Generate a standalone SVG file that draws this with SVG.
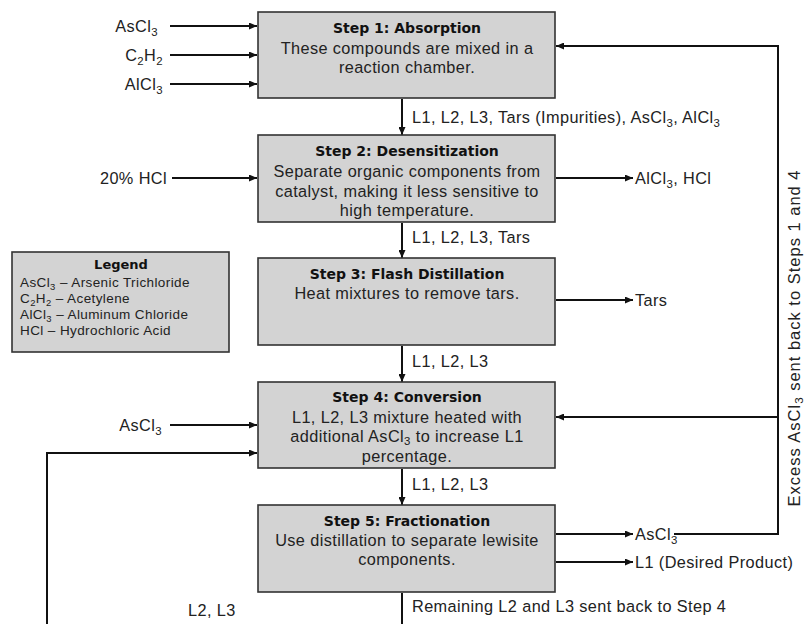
<svg xmlns="http://www.w3.org/2000/svg" width="807" height="624" viewBox="0 0 807 624">
<style>
.box{fill:#d3d3d3;stroke:#333;stroke-width:1.6}
.t{font-family:"DejaVu Sans",Verdana,sans-serif;font-weight:bold;font-size:14px;fill:#111;text-anchor:middle}
.b{font-family:"Liberation Sans",Arial,sans-serif;font-size:16.3px;letter-spacing:0.4px;fill:#222;text-anchor:middle}
.l{font-family:"Liberation Sans",Arial,sans-serif;font-size:16.3px;letter-spacing:0.4px;fill:#222}
.e{text-anchor:end}
.g{font-family:"Liberation Sans",Arial,sans-serif;font-size:13.5px;letter-spacing:0.4px;fill:#222}
.gt{font-family:"DejaVu Sans",Verdana,sans-serif;font-weight:bold;font-size:13px;fill:#111;text-anchor:middle}
.s{font-size:70%}
.c{fill:none;stroke:#111;stroke-width:2}
</style>
<defs>
<marker id="a" markerUnits="userSpaceOnUse" markerWidth="8" markerHeight="7" refX="8" refY="3.5" orient="auto">
<path d="M0,0 L8,3.5 L0,7 z" fill="#111"/>
</marker>
</defs>
<rect width="807" height="624" fill="#fff"/>

<g id="connectors">
<path class="c" marker-end="url(#a)" d="M170,26 H257"/>
<path class="c" marker-end="url(#a)" d="M170,55 H257"/>
<path class="c" marker-end="url(#a)" d="M170,84 H257"/>
<path class="c" marker-end="url(#a)" d="M172,178 H257"/>
<path class="c" marker-end="url(#a)" d="M170,425 H257"/>
<path class="c" marker-end="url(#a)" d="M402,99 V135"/>
<path class="c" marker-end="url(#a)" d="M402,223 V258"/>
<path class="c" marker-end="url(#a)" d="M402,346 V382"/>
<path class="c" marker-end="url(#a)" d="M402,469 V505"/>
<path class="c" marker-end="url(#a)" d="M556,178 H633"/>
<path class="c" marker-end="url(#a)" d="M556,300 H633"/>
<path class="c" marker-end="url(#a)" d="M556,534 H633"/>
<path class="c" marker-end="url(#a)" d="M556,562 H633"/>
<path class="c" marker-end="url(#a)" d="M674,534 H778 V46 H556"/>
<path class="c" marker-end="url(#a)" d="M778,417 H556"/>
<path class="c" marker-end="url(#a)" d="M402,593 V632 H47 V453 H257"/>
</g>

<g id="step1">
<rect class="box" x="258" y="12" width="297" height="86"/>
<text class="t" x="407" y="33">Step 1: Absorption</text>
<text class="b" x="407" y="54">These compounds are mixed in a</text>
<text class="b" x="407" y="73">reaction chamber.</text>
</g>
<g id="step2">
<rect class="box" x="258" y="135" width="297" height="87"/>
<text class="t" x="407" y="156">Step 2: Desensitization</text>
<text class="b" x="407" y="177">Separate organic components from</text>
<text class="b" x="407" y="197">catalyst, making it less sensitive to</text>
<text class="b" x="407" y="216">high temperature.</text>
</g>
<g id="step3">
<rect class="box" x="258" y="258" width="297" height="87"/>
<text class="t" x="407" y="279">Step 3: Flash Distillation</text>
<text class="b" x="407" y="299">Heat mixtures to remove tars.</text>
</g>
<g id="step4">
<rect class="box" x="258" y="382" width="297" height="86"/>
<text class="t" x="407" y="402">Step 4: Conversion</text>
<text class="b" x="407" y="423">L1, L2, L3 mixture heated with</text>
<text class="b" x="407" y="442">additional AsCl<tspan class="s" dy="3">3</tspan><tspan dy="-3"> to increase L1</tspan></text>
<text class="b" x="407" y="462">percentage.</text>
</g>
<g id="step5">
<rect class="box" x="258" y="505" width="297" height="87"/>
<text class="t" x="407" y="526">Step 5: Fractionation</text>
<text class="b" x="407" y="546">Use distillation to separate lewisite</text>
<text class="b" x="407" y="565">components.</text>
</g>
<g id="legend">
<rect class="box" x="12" y="252" width="217" height="100"/>
<text class="gt" x="121" y="269">Legend</text>
<text class="g" x="20" y="287">AsCl<tspan class="s" dy="3">3</tspan><tspan dy="-3"> – Arsenic Trichloride</tspan></text>
<text class="g" x="20" y="303">C<tspan class="s" dy="3">2</tspan><tspan dy="-3">H</tspan><tspan class="s" dy="3">2</tspan><tspan dy="-3"> – Acetylene</tspan></text>
<text class="g" x="20" y="319">AlCl<tspan class="s" dy="3">3</tspan><tspan dy="-3"> – Aluminum Chloride</tspan></text>
<text class="g" x="20" y="335">HCl – Hydrochloric Acid</text>
</g>

<g id="inputs">
<text class="l e" x="158" y="32">AsCl<tspan class="s" dy="4">3</tspan></text>
<text class="l e" x="163" y="61">C<tspan class="s" dy="4">2</tspan><tspan dy="-4">H</tspan><tspan class="s" dy="4">2</tspan></text>
<text class="l e" x="163" y="90">AlCl<tspan class="s" dy="4">3</tspan></text>
<text class="l e" x="167" y="184">20% HCl</text>
<text class="l e" x="162" y="431">AsCl<tspan class="s" dy="4">3</tspan></text>
</g>
<g id="labels">
<text class="l" x="412" y="123">L1, L2, L3, Tars (Impurities), AsCl<tspan class="s" dy="4">3</tspan><tspan dy="-4">, AlCl</tspan><tspan class="s" dy="4">3</tspan></text>
<text class="l" x="412" y="243">L1, L2, L3, Tars</text>
<text class="l" x="412" y="367">L1, L2, L3</text>
<text class="l" x="412" y="490">L1, L2, L3</text>
<text class="l" x="412" y="612">Remaining L2 and L3 sent back to Step 4</text>
<text class="l" x="188" y="616">L2, L3</text>
<text class="l" x="635" y="184">AlCl<tspan class="s" dy="4">3</tspan><tspan dy="-4">, HCl</tspan></text>
<text class="l" x="635" y="306">Tars</text>
<text class="l" x="635" y="540">AsCl<tspan class="s" dy="4">3</tspan></text>
<text class="l" x="635" y="568">L1 (Desired Product)</text>
<text class="l" text-anchor="middle" style="font-size:16.5px;letter-spacing:1px" transform="translate(800,338) rotate(-90)">Excess AsCl<tspan class="s" dy="3">3</tspan><tspan dy="-3"> sent back to Steps 1 and 4</tspan></text>
</g>
</svg>
